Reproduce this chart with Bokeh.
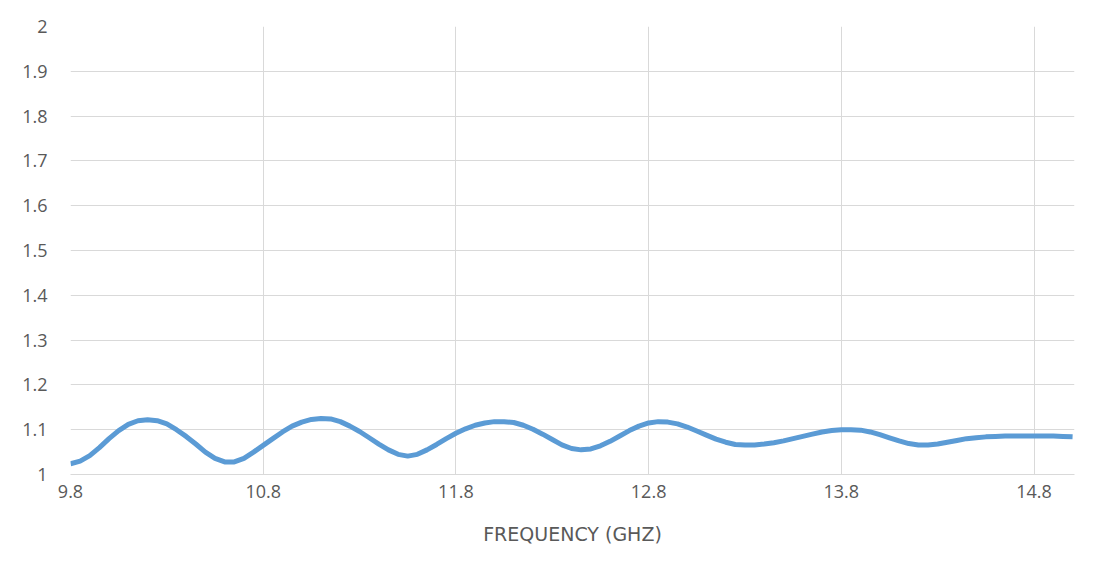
from bokeh.plotting import figure
from bokeh.models import Range1d, FixedTicker
from bokeh.embed import file_html
from bokeh.resources import INLINE

freq = [9.80, 9.85, 9.90, 9.95, 10.00, 10.05, 10.10, 10.15, 10.20, 10.25,
        10.30, 10.35, 10.40, 10.45, 10.50, 10.55, 10.60, 10.65, 10.70, 10.75,
        10.80, 10.85, 10.90, 10.95, 11.00, 11.05, 11.10, 11.15, 11.20, 11.25,
        11.30, 11.35, 11.40, 11.45, 11.50, 11.55, 11.60, 11.65, 11.70, 11.75,
        11.80, 11.85, 11.90, 11.95, 12.00, 12.05, 12.10, 12.15, 12.20, 12.25,
        12.30, 12.35, 12.40, 12.45, 12.50, 12.55, 12.60, 12.65, 12.70, 12.75,
        12.80, 12.85, 12.90, 12.95, 13.00, 13.05, 13.10, 13.15, 13.20, 13.25,
        13.30, 13.35, 13.40, 13.45, 13.50, 13.55, 13.60, 13.65, 13.70, 13.75,
        13.80, 13.85, 13.90, 13.95, 14.00, 14.05, 14.10, 14.15, 14.20, 14.25,
        14.30, 14.35, 14.40, 14.45, 14.50, 14.55, 14.60, 14.65, 14.70, 14.75,
        14.80, 14.85, 14.90, 14.95, 15.00]
vswr = [1.024, 1.030, 1.042, 1.060, 1.080, 1.098, 1.112, 1.120, 1.122, 1.120,
        1.113, 1.100, 1.085, 1.068, 1.050, 1.036, 1.028, 1.028, 1.036, 1.050,
        1.065, 1.080, 1.095, 1.108, 1.117, 1.123, 1.125, 1.124, 1.118, 1.108,
        1.096, 1.082, 1.068, 1.055, 1.045, 1.041, 1.045, 1.055, 1.067, 1.080,
        1.092, 1.102, 1.110, 1.115, 1.118, 1.118, 1.116, 1.110, 1.101, 1.090,
        1.078, 1.066, 1.058, 1.055, 1.057, 1.064, 1.074, 1.086, 1.098, 1.108,
        1.115, 1.118, 1.117, 1.113, 1.106, 1.097, 1.088, 1.079, 1.072, 1.067,
        1.066, 1.066, 1.068, 1.071, 1.075, 1.080, 1.085, 1.090, 1.095, 1.098,
        1.100, 1.100, 1.099, 1.095, 1.089, 1.082, 1.075, 1.069, 1.066, 1.066,
        1.068, 1.072, 1.076, 1.080, 1.082, 1.084, 1.085, 1.086, 1.086, 1.086,
        1.086, 1.086, 1.086, 1.085, 1.084]

x_ticks = [9.8, 10.8, 11.8, 12.8, 13.8, 14.8]
y_ticks = [1.0, 1.1, 1.2, 1.3, 1.4, 1.5, 1.6, 1.7, 1.8, 1.9, 2.0]
y_labels = ["1", "1.1", "1.2", "1.3", "1.4", "1.5", "1.6", "1.7", "1.8", "1.9", "2"]
x_title = "FREQUENCY (GHZ)"

FONT = "Open Sans"
GRAY = "#595959"
GRID = "#D9D9D9"

p = figure(width=1098, height=566, output_backend="svg", toolbar_location=None,
           x_range=Range1d(9.8, 15.01), y_range=Range1d(1.0, 2.0),
           min_border_left=70, min_border_right=24, min_border_top=26,
           min_border_bottom=92)
p.outline_line_color = None

p.line(freq, vswr, line_color="#5B9BD5", line_width=5)

p.xaxis.ticker = FixedTicker(ticks=x_ticks)
p.yaxis.ticker = FixedTicker(ticks=y_ticks)
p.yaxis.major_label_overrides = {t: l for t, l in zip(y_ticks, y_labels)}
p.xaxis.major_label_overrides = {t: str(t) for t in x_ticks}

for ax in (p.xaxis, p.yaxis):
    ax.major_tick_line_color = None
    ax.minor_tick_line_color = None
    ax.major_label_text_font = FONT
    ax.major_label_text_font_size = "18px"
    ax.major_label_text_color = GRAY
p.xaxis.axis_line_color = GRID
p.xaxis.axis_line_width = 1
p.yaxis.axis_line_color = None
p.yaxis.major_label_standoff = 17
p.xaxis.major_label_standoff = 4

p.xaxis.axis_label = x_title
p.xaxis.axis_label_text_font = "DejaVu Sans"
p.xaxis.axis_label_text_font_size = "19px"
p.xaxis.axis_label_text_font_style = "normal"
p.xaxis.axis_label_text_color = GRAY
p.xaxis.axis_label_standoff = 22

p.xgrid.grid_line_color = GRID
p.ygrid.grid_line_color = GRID
p.xgrid.grid_line_width = 1
p.ygrid.grid_line_width = 1

open("out.html", "w").write(file_html(p, INLINE))
